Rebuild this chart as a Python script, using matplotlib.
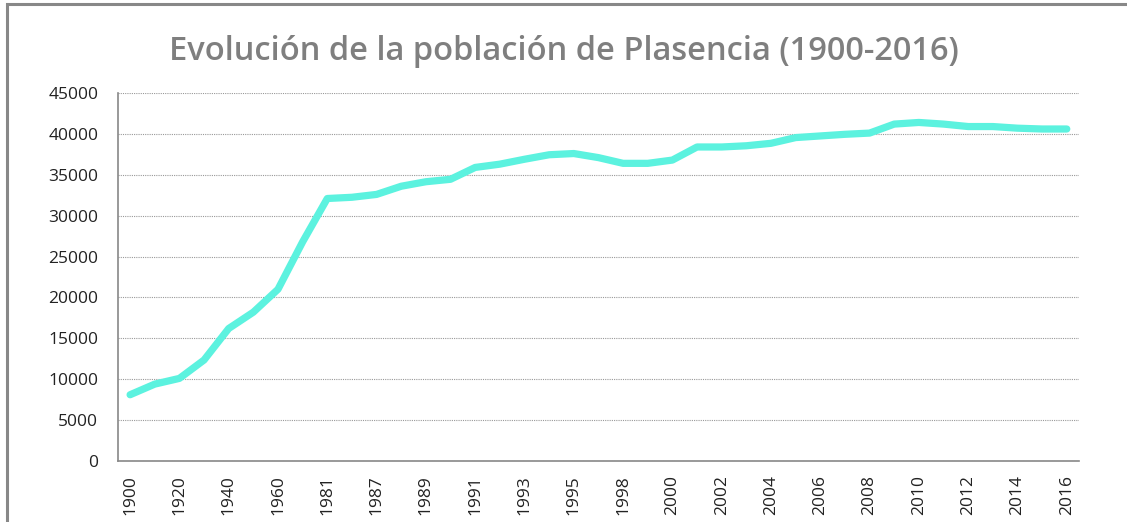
import matplotlib.pyplot as plt
from matplotlib.patches import Rectangle
from matplotlib.ticker import MultipleLocator

# categories (not evenly spaced years, as in the source sheet)
years = ["1900", "1910", "1920", "1930", "1940", "1950", "1960", "1970",
         "1981", "1986", "1987", "1988", "1989", "1990", "1991", "1992",
         "1993", "1994", "1995", "1996", "1998", "1999", "2000", "2001",
         "2002", "2003", "2004", "2005", "2006", "2007", "2008", "2009",
         "2010", "2011", "2012", "2013", "2014", "2015", "2016"]
poblacion = [8100, 9400, 10100, 12350, 16200, 18200, 21000, 26800,
             32100, 32250, 32600, 33600, 34150, 34450, 35900, 36300,
             36900, 37450, 37600, 37100, 36400, 36400, 36800, 38400,
             38400, 38550, 38850, 39550, 39750, 39950, 40100, 41200,
             41400, 41200, 40900, 40900, 40700, 40600, 40600]

plt.rcParams['font.family'] = ['Open Sans', 'DejaVu Sans']

fig = plt.figure(figsize=(11.27, 5.22), dpi=100)
ax = fig.add_axes([0.1045, 0.1169, 0.853, 0.7049])

x = list(range(len(years)))
ax.plot(x, poblacion, color='#5cf2df', lw=5.2, solid_capstyle='round',
        solid_joinstyle='round', zorder=3)

ax.set_xlim(-0.5, len(years) - 0.5)
ax.set_ylim(0, 45000)
ax.yaxis.set_major_locator(MultipleLocator(5000))
ax.set_xticks(x[::2])
ax.set_xticklabels(years[::2], rotation=90, fontsize=12.5, color='#222222')
ax.tick_params(axis='y', labelsize=12.5, labelcolor='#222222', length=0, pad=14)
ax.tick_params(axis='x', length=0, pad=10)

ax.grid(axis='y', linestyle=(0, (1, 1)), color='#999999', lw=0.8)
for s in ['top', 'right']:
    ax.spines[s].set_visible(False)
for s in ['left', 'bottom']:
    ax.spines[s].set_color('#888888')
    ax.spines[s].set_linewidth(1.2)

fig.text(0.5, 0.885, "Evolución de la población de Plasencia (1900-2016)",
         ha='center', va='baseline', fontsize=23.5, fontweight='semibold',
         color='#7f7f7f')

# outer frame (cut off at right and bottom)
fig.patches.append(Rectangle((0.0062, -0.05), 1.1, 1.05 - 0.0077,
                             transform=fig.transFigure, fill=False,
                             edgecolor='#888888', lw=2.2))

fig.savefig('out.png', dpi=100)
